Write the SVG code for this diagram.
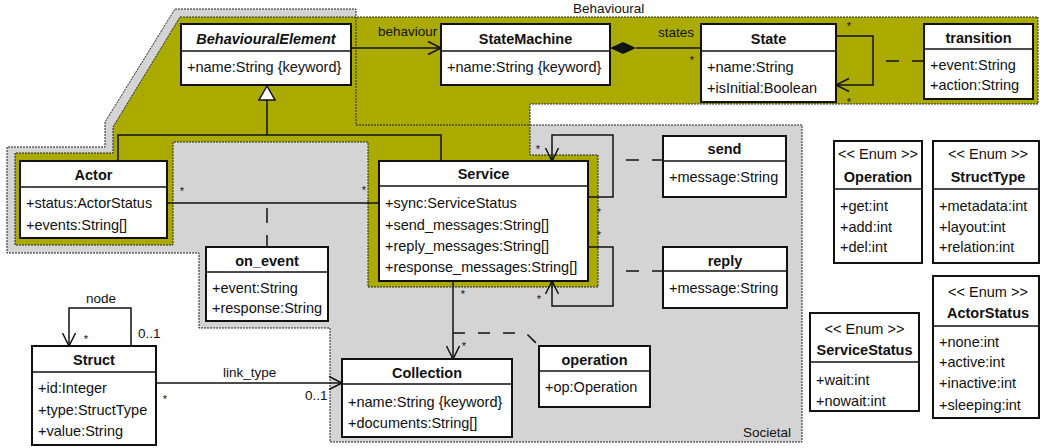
<svg xmlns="http://www.w3.org/2000/svg" width="1040" height="448" viewBox="0 0 1040 448">
<style>
text{font-family:"Liberation Sans",Arial,sans-serif;fill:#111}
.t{font-size:14.5px;font-weight:bold;text-anchor:middle}
.ti{font-size:14.5px;font-weight:bold;font-style:italic;text-anchor:middle}
.st{font-size:14.5px;text-anchor:middle}
.a{font-size:14.5px}
.l{font-size:13.5px}
.m{font-size:11px;text-anchor:middle}
.box{fill:#fff;stroke:#111;stroke-width:2}
.sep{stroke:#111;stroke-width:1.5}
.c{fill:none;stroke:#111;stroke-width:1.5}
.d{fill:none;stroke:#111;stroke-width:1.5;stroke-dasharray:13 13;stroke-dashoffset:13}
.pk{stroke:#222;stroke-width:1;stroke-dasharray:2 1}
</style>
<defs>
<marker id="open" markerUnits="userSpaceOnUse" markerWidth="16" markerHeight="16" refX="13" refY="6.5" orient="auto" overflow="visible">
<path d="M0,0 L13,6.5 L0,13" fill="none" stroke="#111" stroke-width="1.5"/>
</marker>
</defs>

<g id="packages">
<polygon points="175,9 356,9 356,125 802,125 802,442 330,442 330,328 199,328 199,253 7,253 7,147 105,147 105,122" fill="#d4d4d4" stroke="none"/>
<polygon class="pk" points="180,17 1038,17 1038,104 530,104 530,155 598,155 598,287 368,287 368,142 173,142 173,245 15,245 15,153 113,153 113,127" fill="#aaaa00"/>
<polygon class="pk" points="175,9 356,9 356,125 802,125 802,442 330,442 330,328 199,328 199,253 7,253 7,147 105,147 105,122" fill="none"/>
<text class="l" x="573" y="13">Behavioural</text>
<text class="l" x="743" y="437">Societal</text>
</g>

<g id="connectors">
<line class="c" x1="351" y1="48" x2="441" y2="48" marker-end="url(#open)"/>
<text class="l" x="378" y="36">behaviour</text>
<polygon points="610,48 623,42 636,48 623,54" fill="#111"/>
<line class="c" x1="636" y1="48" x2="701" y2="48"/>
<text class="l" x="658" y="37">states</text>
<text class="m" x="692" y="64">*</text>
<polyline class="c" points="836,36 873,36 873,85 836,85" marker-end="url(#open)"/>
<text class="m" x="849" y="30">*</text>
<text class="m" x="849" y="106">*</text>
<line class="d" x1="873" y1="61" x2="924" y2="61"/>
<polyline class="c" points="118,161 118,135 441,135 441,161"/>
<line class="c" x1="267" y1="135" x2="267" y2="100"/>
<polygon points="267,86 259,100 275,100" fill="#fff" stroke="#111" stroke-width="1.5"/>
<line class="c" x1="167" y1="203" x2="379" y2="203"/>
<text class="m" x="182" y="195">*</text>
<text class="m" x="364" y="194">*</text>
<line class="c" x1="267" y1="203" x2="267" y2="247" style="stroke-dasharray:15 12;stroke-dashoffset:22"/>
<polyline class="c" points="588,197 613,197 613,135 552,135 552,161" marker-end="url(#open)"/>
<text class="m" x="538" y="153">*</text>
<text class="m" x="599" y="216">*</text>
<line class="d" x1="613" y1="160" x2="663" y2="160"/>
<polyline class="c" points="588,247 613,247 613,306 552,306 552,281" marker-end="url(#open)"/>
<text class="m" x="599" y="239">*</text>
<text class="m" x="539" y="303">*</text>
<line class="d" x1="613" y1="271" x2="663" y2="271"/>
<line class="c" x1="453" y1="281" x2="453" y2="359" marker-end="url(#open)"/>
<text class="m" x="463" y="298">*</text>
<text class="m" x="464" y="350">*</text>
<polyline class="c" points="453,333 526,333 539,346" style="stroke-dasharray:12 13"/>
<polyline class="c" points="131,346 131,308 69,308 69,346" marker-end="url(#open)"/>
<text class="l" x="86" y="303">node</text>
<text class="m" x="86" y="343">*</text>
<text class="l" x="138" y="338">0..1</text>
<line class="c" x1="156" y1="383" x2="342" y2="383" marker-end="url(#open)"/>
<text class="l" x="223" y="377">link_type</text>
<text class="m" x="165" y="403">*</text>
<text class="l" x="305" y="400">0..1</text>
</g>

<g id="BehaviouralElement">
<rect class="box" x="181" y="24" width="170" height="61"/>
<line class="sep" x1="181" y1="51" x2="351" y2="51"/>
<text class="ti" x="266" y="44">BehaviouralElement</text>
<text class="a" x="187" y="72">+name:String {keyword}</text>
</g>
<g id="StateMachine">
<rect class="box" x="441" y="24" width="169" height="61"/>
<line class="sep" x1="441" y1="51" x2="610" y2="51"/>
<text class="t" x="525.5" y="44">StateMachine</text>
<text class="a" x="447" y="72">+name:String {keyword}</text>
</g>
<g id="State">
<rect class="box" x="701" y="24" width="135" height="78"/>
<line class="sep" x1="701" y1="51" x2="836" y2="51"/>
<text class="t" x="768.5" y="44">State</text>
<text class="a" x="707" y="72">+name:String</text>
<text class="a" x="707" y="93">+isInitial:Boolean</text>
</g>
<g id="transition">
<rect class="box" x="924" y="24" width="109" height="75"/>
<line class="sep" x1="924" y1="49" x2="1033" y2="49"/>
<text class="t" x="978.5" y="43">transition</text>
<text class="a" x="930" y="70">+event:String</text>
<text class="a" x="930" y="90">+action:String</text>
</g>
<g id="Actor">
<rect class="box" x="20" y="161" width="147" height="77"/>
<line class="sep" x1="20" y1="187" x2="167" y2="187"/>
<text class="t" x="93.5" y="180">Actor</text>
<text class="a" x="26" y="208">+status:ActorStatus</text>
<text class="a" x="26" y="230">+events:String[]</text>
</g>
<g id="Service">
<rect class="box" x="379" y="161" width="209" height="120"/>
<line class="sep" x1="379" y1="186" x2="588" y2="186"/>
<text class="t" x="483.5" y="179">Service</text>
<text class="a" x="385" y="208">+sync:ServiceStatus</text>
<text class="a" x="385" y="230">+send_messages:String[]</text>
<text class="a" x="385" y="251">+reply_messages:String[]</text>
<text class="a" x="385" y="272">+response_messages:String[]</text>
</g>
<g id="on_event">
<rect class="box" x="206" y="247" width="122" height="74"/>
<line class="sep" x1="206" y1="272" x2="328" y2="272"/>
<text class="t" x="267" y="266">on_event</text>
<text class="a" x="212" y="293">+event:String</text>
<text class="a" x="212" y="313">+response:String</text>
</g>
<g id="send">
<rect class="box" x="663" y="136" width="123" height="61"/>
<line class="sep" x1="663" y1="161" x2="786" y2="161"/>
<text class="t" x="724.5" y="154">send</text>
<text class="a" x="669" y="182">+message:String</text>
</g>
<g id="reply">
<rect class="box" x="663" y="247" width="124" height="61"/>
<line class="sep" x1="663" y1="271" x2="787" y2="271"/>
<text class="t" x="725" y="266">reply</text>
<text class="a" x="669" y="293">+message:String</text>
</g>
<g id="Collection">
<rect class="box" x="342" y="359" width="170" height="78"/>
<line class="sep" x1="342" y1="384" x2="512" y2="384"/>
<text class="t" x="427" y="378">Collection</text>
<text class="a" x="348" y="407">+name:String {keyword}</text>
<text class="a" x="348" y="428">+documents:String[]</text>
</g>
<g id="operation">
<rect class="box" x="539" y="346" width="111" height="61"/>
<line class="sep" x1="539" y1="371" x2="650" y2="371"/>
<text class="t" x="594.5" y="365">operation</text>
<text class="a" x="545" y="392">+op:Operation</text>
</g>
<g id="Struct">
<rect class="box" x="32" y="346" width="124" height="99"/>
<line class="sep" x1="32" y1="372" x2="156" y2="372"/>
<text class="t" x="94" y="365">Struct</text>
<text class="a" x="38" y="393">+id:Integer</text>
<text class="a" x="38" y="415">+type:StructType</text>
<text class="a" x="38" y="436">+value:String</text>
</g>
<g id="Operation">
<rect class="box" x="834" y="141" width="88" height="122"/>
<line class="sep" x1="834" y1="189" x2="922" y2="189"/>
<text class="st" x="878" y="159">&lt;&lt; Enum &gt;&gt;</text>
<text class="t" x="878" y="182">Operation</text>
<text class="a" x="840" y="211">+get:int</text>
<text class="a" x="840" y="232">+add:int</text>
<text class="a" x="840" y="252">+del:int</text>
</g>
<g id="StructType">
<rect class="box" x="933" y="141" width="106" height="122"/>
<line class="sep" x1="933" y1="189" x2="1039" y2="189"/>
<text class="st" x="988" y="159">&lt;&lt; Enum &gt;&gt;</text>
<text class="t" x="988" y="182">StructType</text>
<text class="a" x="939" y="211">+metadata:int</text>
<text class="a" x="939" y="232">+layout:int</text>
<text class="a" x="939" y="252">+relation:int</text>
</g>
<g id="ServiceStatus">
<rect class="box" x="810" y="313" width="109" height="98"/>
<line class="sep" x1="810" y1="362" x2="919" y2="362"/>
<text class="st" x="864.5" y="334">&lt;&lt; Enum &gt;&gt;</text>
<text class="t" x="864.5" y="355">ServiceStatus</text>
<text class="a" x="816" y="385">+wait:int</text>
<text class="a" x="816" y="406">+nowait:int</text>
</g>
<g id="ActorStatus">
<rect class="box" x="933" y="276" width="106" height="142"/>
<line class="sep" x1="933" y1="326" x2="1039" y2="326"/>
<text class="st" x="988" y="297">&lt;&lt; Enum &gt;&gt;</text>
<text class="t" x="988" y="318">ActorStatus</text>
<text class="a" x="939" y="347">+none:int</text>
<text class="a" x="939" y="367">+active:int</text>
<text class="a" x="939" y="388">+inactive:int</text>
<text class="a" x="939" y="410">+sleeping:int</text>
</g>
</svg>
